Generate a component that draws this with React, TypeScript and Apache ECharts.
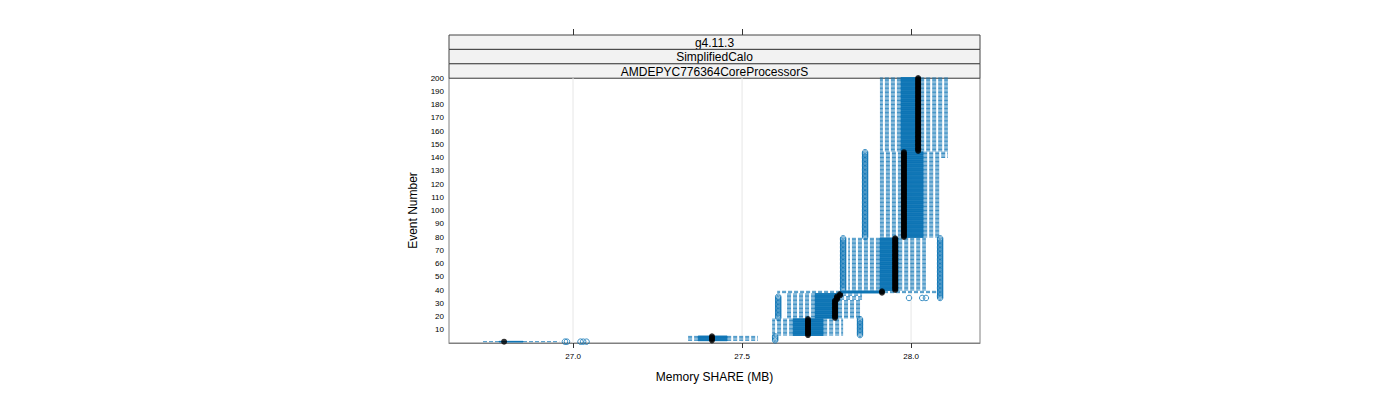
import React, { useEffect, useRef } from "react";
import * as echarts from "echarts";

// ---- data ----
const STRIP_LABELS = ["g4.11.3", "SimplifiedCalo", "AMDEPYC776364CoreProcessorS"];
const X_TICKS = [27.0, 27.5, 28.0];

// box-and-whisker stats per run of consecutive event numbers
const SEG_FROM = [1, 2, 6, 19, 33, 36, 38, 40, 80, 140, 145];
const SEG_TO = [1, 5, 18, 32, 35, 37, 39, 79, 139, 144, 200];
const WHISKER_LO = [26.728, 27.337, 27.589, 27.627, 27.627, 27.627, 27.604, 27.814, 27.908, 27.908, 27.908];
const Q1 = [26.781, 27.37, 27.651, 27.716, 27.716, 27.716, 27.79, 27.908, 27.973, 27.973, 27.97];
const MEDIAN = [26.796, 27.411, 27.695, 27.775, 27.781, 27.79, 27.914, 27.953, 27.979, 27.979, 28.021];
const Q3 = [26.852, 27.456, 27.74, 27.784, 27.79, 27.796, 27.92, 27.962, 28.036, 28.036, 28.027];
const WHISKER_HI = [26.959, 27.547, 27.799, 27.855, 27.855, 27.855, 28.074, 28.044, 28.086, 28.109, 28.109];

// outliers per run of event numbers
const OUT_FROM = [1, 1, 1, 1, 1, 2, 6, 19, 34, 34, 34, 40, 34, 80];
const OUT_TO = [1, 1, 1, 1, 1, 5, 18, 35, 34, 34, 34, 79, 79, 144];
const OUT_VALUE = [26.976, 26.982, 27.022, 27.03, 27.04, 27.598, 27.849, 27.607, 27.994, 28.033, 28.044, 27.799, 28.086, 27.864];

const BLUE = "#0b73b4";
const FONT = "Liberation Sans, Arial, Helvetica, sans-serif";

export default function App() {
  const ref = useRef<HTMLDivElement>(null);

  useEffect(() => {
    if (!ref.current) return;
    const chart = echarts.init(ref.current, undefined, { renderer: "svg" });

    const boxData: number[][] = [];
    const medData: number[][] = [];
    SEG_FROM.forEach((from, i) => {
      for (let k = from; k <= SEG_TO[i]; k++) {
        boxData.push([k, WHISKER_LO[i], Q1[i], MEDIAN[i], Q3[i], WHISKER_HI[i]]);
        medData.push([MEDIAN[i], k]);
      }
    });
    const outData: number[][] = [];
    OUT_FROM.forEach((from, i) => {
      for (let k = from; k <= OUT_TO[i]; k++) outData.push([OUT_VALUE[i], k]);
    });

    const graphic: any[] = [];
    STRIP_LABELS.forEach((t, i) => {
      const y = 35 + i * 14.4;
      graphic.push({
        type: "rect",
        shape: { x: 449, y, width: 531, height: 14.4 },
        style: { fill: "#f2f2f2", stroke: "#444", lineWidth: 1 },
      });
      graphic.push({
        type: "text",
        x: 714.5,
        y: y + 7.8,
        style: { text: t, fontSize: 12, fill: "#000", align: "center", verticalAlign: "middle", fontFamily: FONT },
      });
    });

    const option: any = {
      animation: false,
      textStyle: { fontFamily: FONT },
      grid: {
        left: 449, top: 78, width: 531, height: 265,
        show: true, borderColor: "#808080", borderWidth: 1, backgroundColor: "transparent",
      },
      xAxis: [
        {
          type: "value", min: 26.633, max: 28.204,
          axisLine: { show: true, lineStyle: { color: "#808080" } },
          axisTick: { show: true, length: 5, customValues: X_TICKS, lineStyle: { color: "#333" } },
          axisLabel: {
            customValues: X_TICKS, fontSize: 8, color: "#000", margin: 9,
            formatter: (v: number) => v.toFixed(1), fontFamily: FONT,
          },
          splitLine: { show: false },
          name: "Memory SHARE (MB)", nameLocation: "middle", nameGap: 28,
          nameTextStyle: { fontSize: 12, color: "#000", fontFamily: FONT },
        },
        {
          type: "value", min: 26.633, max: 28.204, position: "top", offset: 43,
          axisLine: { show: false },
          axisTick: { show: true, length: 6, customValues: X_TICKS, lineStyle: { color: "#333" } },
          axisLabel: { show: false },
          splitLine: { show: false },
        },
      ],
      yAxis: {
        type: "value", min: 0, max: 200, interval: 10,
        axisLine: { show: false }, axisTick: { show: false },
        axisLabel: {
          fontSize: 8, color: "#000", margin: 5, fontFamily: FONT,
          formatter: (v: number) => (v === 0 ? "" : String(v)),
        },
        splitLine: { show: false },
        name: "Event Number", nameLocation: "middle", nameGap: 30,
        nameTextStyle: { fontSize: 12, color: "#000", fontFamily: FONT },
      },
      graphic,
      series: [
        {
          type: "custom", z: 1, silent: true,
          data: X_TICKS.map((v) => [v]),
          encode: { x: 0 },
          renderItem: (params: any, api: any) => {
            const v = api.value(0);
            const a = api.coord([v, 200]);
            const b = api.coord([v, 0]);
            return {
              type: "line",
              shape: { x1: a[0], y1: a[1], x2: b[0], y2: b[1] },
              style: { stroke: "#e6e6e6", lineWidth: 1 },
            };
          },
        },
        {
          type: "custom", z: 2, silent: true,
          data: boxData,
          encode: { x: [1, 2, 3, 4, 5], y: 0 },
          renderItem: (params: any, api: any) => {
            const k = api.value(0);
            const pLo = api.coord([api.value(1), k]);
            const pQ1 = api.coord([api.value(2), k]);
            const pQ3 = api.coord([api.value(4), k]);
            const pHi = api.coord([api.value(5), k]);
            const h = api.size([0, 1])[1];
            const y = pQ1[1];
            const bh = h * 0.5;
            return {
              type: "group",
              children: [
                {
                  type: "line",
                  shape: { x1: pQ1[0], y1: y, x2: pLo[0], y2: y },
                  style: { stroke: BLUE, lineWidth: 1, lineDash: [4, 2], opacity: 0.8 },
                },
                {
                  type: "line",
                  shape: { x1: pQ3[0], y1: y, x2: pHi[0], y2: y },
                  style: { stroke: BLUE, lineWidth: 1, lineDash: [4, 2], opacity: 0.8 },
                },
                {
                  type: "rect",
                  shape: { x: pQ1[0], y: y - bh / 2, width: pQ3[0] - pQ1[0], height: bh },
                  style: { fill: BLUE, stroke: BLUE, lineWidth: 1 },
                },
              ],
            };
          },
        },
        {
          type: "scatter", z: 3, silent: true,
          data: medData,
          symbol: "circle", symbolSize: 6,
          itemStyle: { color: "#000" },
        },
        {
          type: "scatter", z: 4, silent: true,
          data: outData,
          symbol: "circle", symbolSize: 5.5,
          itemStyle: { color: "transparent", borderColor: BLUE, borderWidth: 1 },
        },
      ],
    };

    chart.setOption(option);
    return () => chart.dispose();
  }, []);

  return (
    <div
      ref={ref}
      style={{ position: "absolute", left: 0, top: 0, width: 1400, height: 400 }}
    />
  );
}
